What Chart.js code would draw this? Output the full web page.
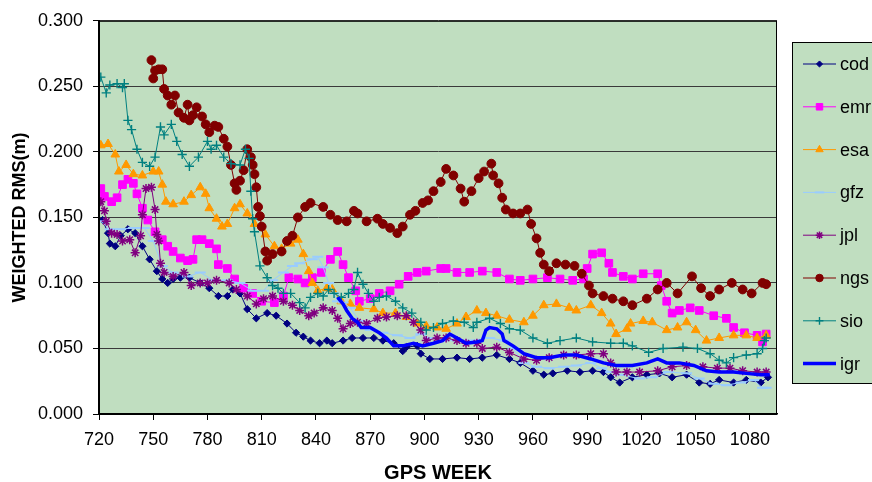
<!DOCTYPE html>
<html>
<head>
<meta charset="utf-8">
<script src="https://cdn.jsdelivr.net/npm/chart.js@4/dist/chart.umd.min.js"></script>
<style>
  html, body { margin: 0; padding: 0; background: #ffffff; }
  #wrap { width: 872px; height: 482px; }
</style>
</head>
<body>
<div id="wrap"><canvas id="c" width="872" height="482"></canvas></div>
<script>
// Weighted RMS (m) per analysis centre, by GPS week
const codWeek = [722,725,726,729,732,736,740,744,748,752,755,758,761,765,770,776,781,786,791,794,798,802,807,813,818,824,829,833,837,842,846,849,855,860,866,872,877,883,888,890,896,898,903,910,918,925,932,940,947,953,960,966,971,979,986,993,999,1003,1008,1015,1023,1030,1037,1045,1052,1058,1063,1071,1078,1086,1090];
const codRms  = [0.148,0.138,0.130,0.128,0.136,0.141,0.138,0.128,0.118,0.109,0.103,0.100,0.103,0.104,0.104,0.100,0.096,0.090,0.090,0.095,0.092,0.080,0.073,0.077,0.075,0.069,0.062,0.059,0.056,0.054,0.056,0.054,0.056,0.058,0.058,0.058,0.056,0.054,0.048,0.051,0.052,0.046,0.042,0.042,0.043,0.042,0.043,0.045,0.042,0.039,0.033,0.030,0.031,0.033,0.032,0.033,0.032,0.028,0.024,0.028,0.030,0.031,0.028,0.030,0.024,0.023,0.026,0.024,0.026,0.024,0.028];

const emrWeek = [721,723,727,730,733,736,739,741,744,747,751,755,758,761,765,769,772,774,777,781,785,786,791,795,800,805,810,817,822,825,830,834,838,843,848,852,855,858,862,864,870,875,881,886,891,896,901,909,912,918,925,932,940,947,953,960,968,975,982,988,990,993,998,1002,1004,1010,1015,1021,1029,1031,1034,1037,1041,1047,1052,1060,1067,1071,1077,1084,1087,1089];
const emrRms  = [0.172,0.166,0.162,0.165,0.175,0.179,0.176,0.168,0.157,0.148,0.139,0.133,0.128,0.124,0.119,0.117,0.118,0.133,0.133,0.130,0.126,0.114,0.111,0.103,0.096,0.092,0.086,0.085,0.090,0.104,0.103,0.100,0.104,0.108,0.118,0.124,0.114,0.104,0.094,0.086,0.088,0.092,0.094,0.099,0.105,0.108,0.109,0.111,0.111,0.108,0.108,0.109,0.108,0.103,0.102,0.103,0.104,0.103,0.102,0.103,0.111,0.122,0.123,0.115,0.108,0.105,0.103,0.107,0.107,0.098,0.086,0.077,0.079,0.081,0.079,0.075,0.073,0.066,0.062,0.060,0.055,0.061];

const esaWeek = [721,725,729,731,735,739,744,750,753,755,757,761,767,771,776,779,781,785,788,791,795,798,802,806,812,817,821,826,830,833,836,838,841,846,849,854,859,864,872,877,884,890,896,901,907,912,918,923,929,934,940,947,955,960,966,973,980,984,992,998,1003,1006,1012,1014,1021,1026,1034,1040,1045,1050,1056,1063,1071,1078,1084,1089];
const esaRms  = [0.205,0.206,0.198,0.185,0.190,0.183,0.182,0.185,0.185,0.175,0.162,0.160,0.162,0.167,0.173,0.168,0.157,0.149,0.143,0.145,0.157,0.160,0.153,0.145,0.137,0.128,0.126,0.130,0.133,0.122,0.109,0.100,0.094,0.096,0.095,0.086,0.084,0.081,0.080,0.077,0.077,0.074,0.069,0.067,0.066,0.065,0.069,0.074,0.079,0.077,0.075,0.072,0.070,0.075,0.083,0.084,0.081,0.079,0.083,0.077,0.069,0.061,0.065,0.069,0.071,0.070,0.064,0.066,0.070,0.064,0.056,0.058,0.060,0.060,0.058,0.060];

const gfzWeek = [721,726,732,739,745,750,755,761,769,776,783,791,798,805,811,816,822,827,831,838,841,844,847,850,852,855,859,864,870,877,885,892,898,903,910,918,925,936,944,949,955,962,969,977,984,992,998,1003,1008,1019,1026,1035,1045,1052,1060,1067,1075,1082,1087,1089];
const gfzRms  = [0.147,0.141,0.141,0.142,0.142,0.132,0.113,0.108,0.105,0.108,0.102,0.102,0.100,0.094,0.094,0.102,0.108,0.113,0.115,0.118,0.120,0.112,0.100,0.092,0.086,0.085,0.081,0.071,0.064,0.062,0.060,0.058,0.061,0.058,0.056,0.056,0.056,0.058,0.056,0.050,0.039,0.036,0.035,0.036,0.037,0.039,0.035,0.032,0.030,0.027,0.028,0.032,0.031,0.027,0.023,0.022,0.024,0.026,0.020,0.020];

const jplWeek = [721,723,724,727,730,733,737,740,743,744,746,749,751,752,753,754,756,761,767,771,776,780,785,792,796,802,807,811,816,822,827,831,836,839,844,849,852,855,859,863,868,874,879,885,890,894,898,901,907,912,918,923,929,932,940,947,955,962,969,977,984,992,999,1003,1006,1012,1019,1029,1037,1045,1054,1062,1069,1076,1084,1089];
const jplRms  = [0.162,0.155,0.147,0.138,0.137,0.132,0.133,0.123,0.136,0.152,0.172,0.173,0.156,0.137,0.132,0.115,0.108,0.105,0.108,0.098,0.100,0.100,0.102,0.100,0.095,0.090,0.084,0.088,0.090,0.086,0.083,0.079,0.075,0.077,0.081,0.079,0.073,0.065,0.069,0.070,0.069,0.073,0.074,0.075,0.075,0.070,0.064,0.056,0.058,0.058,0.056,0.054,0.054,0.050,0.051,0.047,0.042,0.041,0.043,0.045,0.045,0.046,0.046,0.039,0.032,0.032,0.032,0.033,0.036,0.037,0.036,0.035,0.035,0.033,0.032,0.032];

const ngsWeek = [749,750,751,753,755,756,758,760,762,764,767,769,770,772,774,777,779,781,784,786,789,791,793,795,796,798,800,802,804,805,806,807,808,809,810,812,813,816,821,824,827,830,834,837,844,848,852,857,861,863,868,874,877,881,885,888,892,895,899,902,905,909,912,916,920,922,926,930,933,937,938,941,943,945,949,953,957,959,962,964,966,969,973,978,983,987,991,993,999,1004,1010,1015,1023,1029,1034,1040,1048,1053,1058,1063,1070,1076,1081,1087,1089];
const ngsRms  = [0.270,0.256,0.262,0.263,0.263,0.248,0.243,0.236,0.243,0.230,0.226,0.236,0.224,0.228,0.234,0.227,0.221,0.215,0.220,0.219,0.210,0.204,0.190,0.176,0.171,0.178,0.186,0.202,0.196,0.190,0.183,0.173,0.158,0.151,0.143,0.124,0.117,0.122,0.124,0.132,0.136,0.150,0.158,0.161,0.158,0.152,0.148,0.147,0.155,0.153,0.147,0.149,0.145,0.142,0.138,0.143,0.152,0.155,0.161,0.163,0.170,0.177,0.187,0.182,0.172,0.162,0.170,0.180,0.185,0.191,0.182,0.176,0.165,0.156,0.153,0.153,0.156,0.145,0.134,0.123,0.114,0.109,0.115,0.114,0.113,0.107,0.098,0.092,0.090,0.088,0.086,0.083,0.088,0.095,0.100,0.092,0.105,0.096,0.090,0.095,0.100,0.095,0.092,0.100,0.099];

const sioWeek = [721,724,726,730,733,734,736,738,741,744,748,751,754,756,760,763,766,770,775,780,782,785,789,793,798,801,803,804,805,806,809,813,816,819,822,826,831,834,837,841,844,847,850,854,858,861,863,866,869,872,875,879,884,888,893,898,901,905,910,916,922,927,929,936,942,947,953,960,968,975,984,993,1003,1010,1015,1024,1032,1043,1051,1058,1063,1067,1071,1078,1084,1087,1088,1089];
const sioRms  = [0.257,0.245,0.251,0.252,0.249,0.252,0.224,0.217,0.202,0.192,0.189,0.196,0.219,0.213,0.221,0.208,0.198,0.189,0.196,0.208,0.202,0.205,0.196,0.191,0.190,0.202,0.195,0.170,0.149,0.139,0.113,0.104,0.098,0.096,0.092,0.092,0.085,0.081,0.089,0.092,0.090,0.095,0.092,0.089,0.092,0.095,0.108,0.099,0.092,0.086,0.089,0.090,0.086,0.081,0.077,0.070,0.064,0.066,0.069,0.071,0.070,0.066,0.070,0.073,0.069,0.065,0.064,0.058,0.054,0.056,0.058,0.055,0.054,0.054,0.052,0.047,0.050,0.051,0.050,0.046,0.041,0.039,0.043,0.045,0.046,0.050,0.056,0.058];

const igrWeek = [852,855,857,860,863,865,870,875,879,883,888,894,899,905,910,914,918,923,929,932,934,936,940,943,944,949,955,962,969,977,984,992,999,1006,1012,1015,1023,1029,1034,1041,1049,1056,1063,1071,1078,1086,1091];
const igrRms  = [0.089,0.084,0.079,0.073,0.070,0.066,0.066,0.062,0.058,0.052,0.052,0.054,0.052,0.054,0.056,0.061,0.058,0.054,0.055,0.056,0.064,0.066,0.065,0.061,0.056,0.052,0.046,0.043,0.043,0.045,0.045,0.042,0.039,0.037,0.037,0.037,0.039,0.042,0.039,0.039,0.037,0.033,0.032,0.032,0.031,0.030,0.030];

const seriesNames = ['cod','emr','esa','gfz','jpl','ngs','sio','igr'];
const weekTicks = [720,750,780,810,840,870,900,930,960,990,1020,1050,1080];
const rmsTicks = [0,0.05,0.10,0.15,0.20,0.25,0.30];

const weeksBySeries = [codWeek, emrWeek, esaWeek, gfzWeek, jplWeek, ngsWeek, sioWeek, igrWeek];
const rmsBySeries   = [codRms, emrRms, esaRms, gfzRms, jplRms, ngsRms, sioRms, igrRms];

// Line and marker appearance for each centre
const looks = [
  { color: '#000080', fill: '#000080', style: 'rectRot',  radius: 3.6, line: 1,   pbw: 1 },
  { color: '#FF00FF', fill: '#FF00FF', style: 'rect',     radius: 5.4, line: 1,   pbw: 1 },
  { color: '#FF9900', fill: '#FF9900', style: 'triangle', radius: 5,   line: 1,   pbw: 1 },
  { color: '#99CCFF', fill: '#99CCFF', style: 'line',     radius: 5.5, line: 1,   pbw: 2 },
  { color: '#800080', fill: '#800080', style: 'star',     radius: 4.5, line: 1,   pbw: 1.5 },
  { color: '#800000', fill: '#800000', style: 'circle',   radius: 4.4, line: 1,   pbw: 1 },
  { color: '#008080', fill: '#008080', style: 'cross',    radius: 4.6, line: 1,   pbw: 1.4 },
  { color: '#0000FF', fill: '#0000FF', style: 'circle',   radius: 0,   line: 3.5, pbw: 0 }
];

const PLOT_BG = 'rgb(192,222,192)';

const datasets = seriesNames.map((name, i) => ({
  label: name,
  data: weeksBySeries[i].map((w, k) => ({ x: w, y: rmsBySeries[i][k] })),
  borderColor: looks[i].color,
  backgroundColor: looks[i].fill,
  borderWidth: looks[i].line,
  pointStyle: looks[i].style,
  pointRadius: looks[i].radius,
  pointHoverRadius: looks[i].radius,
  pointBackgroundColor: looks[i].fill,
  pointBorderColor: looks[i].color,
  pointBorderWidth: looks[i].pbw,
  tension: 0,
  fill: false,
  order: seriesNames.length - i
}));

const plotFrame = {
  id: 'plotFrame',
  beforeDraw(chart) {
    const { ctx, chartArea: a } = chart;
    ctx.save();
    ctx.fillStyle = PLOT_BG;
    ctx.fillRect(a.left, a.top, a.right - a.left, a.bottom - a.top);
    ctx.restore();
  },
  afterDraw(chart) {
    const { ctx, chartArea: a } = chart;
    ctx.save();
    ctx.strokeStyle = '#000';
    ctx.lineWidth = 1;
    ctx.strokeRect(a.left + 0.5, a.top + 0.5, a.right - a.left - 1, a.bottom - a.top);
    ctx.restore();
  }
};

// Key panel at the right, drawn with each centre's own line and marker
const sideLegend = {
  id: 'sideLegend',
  afterDraw(chart) {
    const ctx = chart.ctx;
    const boxX = 792.5, boxY = 42.5, boxW = 120, boxH = 341;
    ctx.save();
    ctx.fillStyle = PLOT_BG;
    ctx.fillRect(boxX, boxY, boxW, boxH);
    ctx.strokeStyle = '#000';
    ctx.lineWidth = 1;
    ctx.strokeRect(boxX, boxY, boxW, boxH);
    const firstY = 64, gap = 42.8;
    seriesNames.forEach((name, i) => {
      const y = firstY + i * gap;
      const lk = looks[i];
      ctx.strokeStyle = lk.color;
      ctx.lineWidth = lk.line;
      ctx.beginPath();
      ctx.moveTo(803, y);
      ctx.lineTo(836, y);
      ctx.stroke();
      if (lk.radius > 0) {
        ctx.fillStyle = lk.fill;
        ctx.strokeStyle = lk.color;
        ctx.lineWidth = lk.pbw;
        Chart.helpers.drawPoint(ctx, { pointStyle: lk.style, radius: lk.radius * 0.85, rotation: 0, borderWidth: lk.pbw }, 819.5, y);
      }
      ctx.fillStyle = '#000';
      ctx.font = '18px "Liberation Sans", Arial, sans-serif';
      ctx.textBaseline = 'middle';
      ctx.textAlign = 'left';
      ctx.fillText(name, 840, y + 1);
    });
    ctx.restore();
  }
};

const FONT = '"Liberation Sans", Arial, sans-serif';

new Chart(document.getElementById('c'), {
  type: 'line',
  data: { datasets },
  plugins: [plotFrame, sideLegend],
  options: {
    responsive: false,
    animation: false,
    devicePixelRatio: 1,
    layout: { padding: { left: 0, right: 95, top: 18, bottom: 0 } },
    plugins: { legend: { display: false }, tooltip: { enabled: false } },
    scales: {
      x: {
        type: 'linear',
        min: 720,
        max: 1095,
        afterBuildTicks(scale) { scale.ticks = weekTicks.map(v => ({ value: v })); },
        afterFit(scale) { scale.height = 68; },
        ticks: {
          color: '#000',
          font: { family: FONT, size: 18 },
          padding: 9,
          maxRotation: 0,
          autoSkip: false,
          callback: v => String(v)
        },
        grid: { drawOnChartArea: false, drawTicks: true, tickLength: 6, tickColor: '#000', color: '#000' },
        border: { color: '#000', width: 1.5 },
        title: {
          display: true,
          text: 'GPS WEEK',
          color: '#000',
          font: { family: FONT, size: 20, weight: 'bold', lineHeight: 0.9 },
          padding: { top: 0, bottom: 0 }
        }
      },
      y: {
        type: 'linear',
        min: 0,
        max: 0.3,
        afterBuildTicks(scale) { scale.ticks = rmsTicks.map(v => ({ value: v })); },
        afterFit(scale) { scale.width = 99; },
        ticks: {
          color: '#000',
          font: { family: FONT, size: 18 },
          padding: 10,
          callback: v => Number(v).toFixed(3)
        },
        grid: { color: '#3a3a3a', lineWidth: 1, drawTicks: true, tickLength: 6, tickColor: '#000' },
        border: { color: '#000', width: 2 },
        title: {
          display: true,
          text: 'WEIGHTED RMS(m)',
          color: '#000',
          font: { family: FONT, size: 18, weight: 'bold', lineHeight: 1.2 },
          padding: { top: 9, bottom: 0 }
        }
      }
    }
  }
});
</script>
</body>
</html>
